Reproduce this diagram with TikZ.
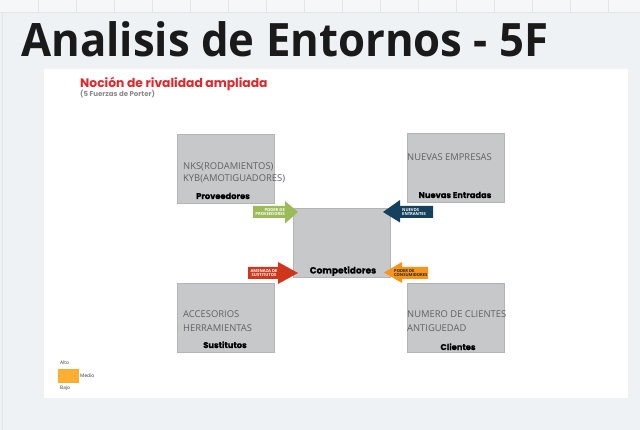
\documentclass[tikz,border=0pt]{standalone}
\usepackage{fontspec}
\setmainfont{Open Sans}
\newfontfamily\pop{Poppins}
\newfontfamily\popb{Poppins}[BoldFeatures={FakeBold=0.6}]
\newfontfamily\titlefont{Open Sans}[FakeStretch=0.95]
\definecolor{bg}{HTML}{EEF2F5}
\definecolor{strip}{HTML}{F5F7F8}
\definecolor{stripline}{HTML}{E2E6E9}
\definecolor{boxfill}{HTML}{C7C8CA}
\definecolor{boxedge}{HTML}{B3B4B6}
\definecolor{titlecol}{HTML}{1A1A1A}
\definecolor{headred}{HTML}{E3262A}
\definecolor{subgray}{HTML}{8A8A8A}
\definecolor{txtgray}{HTML}{5F6062}
\definecolor{agreen}{HTML}{9BBB59}
\definecolor{ablue}{HTML}{15415C}
\definecolor{ared}{HTML}{D0361B}
\definecolor{aorange}{HTML}{F7941D}
\definecolor{legor}{HTML}{FBB034}
\begin{document}
\begin{tikzpicture}[x=1pt,y=-1pt,
  box/.style={draw=boxedge, fill=boxfill, line width=0.6pt, minimum width=97pt, minimum height=69pt, anchor=north west, inner sep=0pt},
  boxtxt/.style={anchor=base west, inner sep=0pt, text=txtgray, font=\fontsize{9.4}{11}\selectfont},
  boxlab/.style={anchor=base, inner sep=0pt, text=black, font=\popb\bfseries\fontsize{8.3}{9}\selectfont},
  arrtxt/.style={inner sep=0pt, text=white, align=left, font=\bfseries\fontsize{4.1}{4.6}\selectfont},
  legtxt/.style={anchor=base west, inner sep=0pt, text=black!80, font=\fontsize{4.8}{5}\selectfont}]
\useasboundingbox (0,0) rectangle (640,430);
\fill[bg] (0,0) rectangle (640,430);
\fill[strip] (0,0) rectangle (640,12);
\draw[stripline, line width=0.6pt] (0,12) -- (640,12);
\foreach \gx in {38,76,114,152,190,228,266,304,342,380,418,456,494,532,570,608}
  \draw[stripline, line width=0.3pt] (\gx,0) -- (\gx,12);
\draw[stripline, line width=0.6pt] (2,12) -- (2,430);
\fill[white] (44,69) rectangle (628,398);
% title
\node[anchor=base west, inner sep=0pt, text=titlecol, font=\titlefont\bfseries\fontsize{46}{50}\selectfont] (title) at (21,57) {Analisis de Entornos - 5F};
\node[anchor=base west, inner sep=0pt, text=headred, font=\pop\bfseries\fontsize{12.3}{14}\selectfont] (head) at (80,87.5) {Noción de rivalidad ampliada};
\node[anchor=base west, inner sep=0pt, text=subgray, font=\pop\bfseries\fontsize{7}{8}\selectfont] (sub) at (80,96.5) {(5 Fuerzas de Porter)};
% boxes
\node[box] (prov) at (177,134) {};
\node[box] (nuev) at (407,133) {};
\node[box] (comp) at (293,208) {};
\node[box] (sust) at (177,283) {};
\node[box] (clie) at (407,283) {};
% box texts
\node[boxtxt] (t1) at (183,170) {NKS(RODAMIENTOS)};
\node[boxtxt] (t2) at (183,182) {KYB(AMOTIGUADORES)};
\node[boxlab] (l1) at (223,199) {Proveedores};
\node[boxtxt] (t3) at (407,161) {NUEVAS EMPRESAS};
\node[boxlab] (l2) at (455,198) {Nuevas Entradas};
\node[boxlab, font=\popb\bfseries\fontsize{9}{10}\selectfont] (l3) at (343,273.5) {Competidores};
\node[boxtxt] (t4) at (183,318) {ACCESORIOS};
\node[boxtxt] (t5) at (183,331) {HERRAMIENTAS};
\node[boxlab] (l4) at (225,348) {Sustitutos};
\node[boxtxt] (t6) at (407,318) {NUMERO DE CLIENTES};
\node[boxtxt] (t7) at (407,331) {ANTIGUEDAD};
\node[boxlab] (l5) at (458,350) {Clientes};
% arrows
\fill[agreen] (253,206) -- (285,206) -- (285,201) -- (298,212) -- (285,223.5) -- (285,218) -- (253,218) -- cycle;
\node[arrtxt, align=right, anchor=east] (a1) at (285,212) {PODER DE\\PROVEEDORES};
\fill[ablue] (433,206) -- (400,206) -- (400,200) -- (383,212) -- (400,222.5) -- (400,218) -- (433,218) -- cycle;
\node[arrtxt, anchor=west] (a2) at (402,212) {NUEVOS\\ENTRANTES};
\fill[ared] (248,267) -- (278,267) -- (278,262) -- (298,273) -- (278,284) -- (278,279) -- (248,279) -- cycle;
\node[arrtxt, align=center, anchor=center] (a3) at (264,273) {AMENAZA DE\\SUSTITUTOS};
\fill[aorange] (428,267) -- (402,267) -- (402,262) -- (384,272.5) -- (402,283) -- (402,279) -- (428,279) -- cycle;
\node[arrtxt, text=black!85, anchor=west] (a4) at (394,273) {PODER DE\\CONSUMIDORES};
% legend
\node[legtxt] (lalto) at (60,364) {Alto};
\node[draw=legor!90!orange, fill=legor, line width=0.5pt, minimum width=20pt, minimum height=13pt, inner sep=0pt, anchor=north west] (lsq) at (57.5,368.5) {};
\node[legtxt] (lmed) at (80,377.5) {Medio};
\node[legtxt] (lbajo) at (60,389) {Bajo};
\end{tikzpicture}
\end{document}
